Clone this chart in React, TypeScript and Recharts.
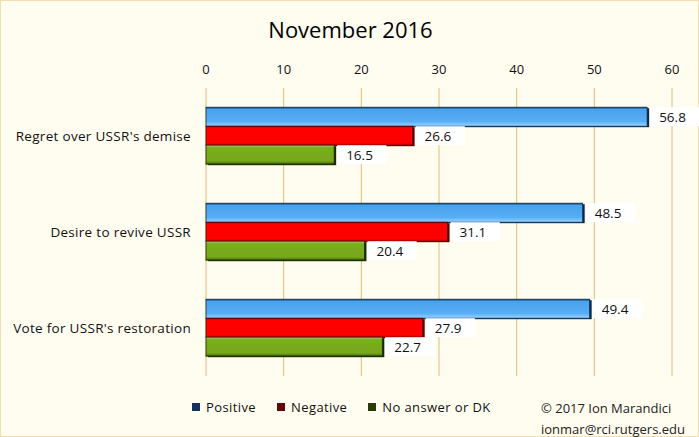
import React from "react";
import { BarChart, Bar, XAxis, YAxis, CartesianGrid, LabelList } from "recharts";

const categories = ["Regret over USSR's demise", "Desire to revive USSR", "Vote for USSR's restoration"];
const positive = [56.8, 48.5, 49.4];
const negative = [26.6, 31.1, 27.9];
const noAnswer = [16.5, 20.4, 22.7];
const xTicks = [0, 10, 20, 30, 40, 50, 60];
const legendItems = [
  { name: "Positive", color: "#14325e" },
  { name: "Negative", color: "#5e0a0a" },
  { name: "No answer or DK", color: "#2c3a08" },
];

const data = categories.map((c, i) => ({
  name: c,
  positive: positive[i],
  negative: negative[i],
  noAnswer: noAnswer[i],
}));

const FONT = "'Open Sans', 'DejaVu Sans', sans-serif";

const makeShape = (id: string, dark: string) => (props: any) => {
  const { x, y, width, height } = props;
  if (width == null || width <= 0) return null;
  return (
    <g>
      <rect x={x + 2} y={y + 1} width={width} height={height} fill={dark} />
      <rect x={x} y={y} width={width} height={height} fill={`url(#${id})`} stroke={dark} strokeWidth={0.8} />
    </g>
  );
};

const ValueLabel = (props: any) => {
  const { x, y, width, height, value } = props;
  const txt = Number(value).toFixed(1);
  const bx = x + width + 3;
  const tw = txt.length * 7.8;
  return (
    <g>
      <rect x={bx} y={y} width={tw + 18} height={height} fill="#ffffff" />
      <text x={bx + 9} y={y + height / 2 + 5} fontSize={13.5} fontFamily={FONT} fill="#111">
        {txt}
      </text>
    </g>
  );
};

export default function App() {
  return (
    <div
      style={{
        position: "absolute",
        left: 0,
        top: 0,
        width: 699,
        height: 437,
        background: "#FFFDF0",
        boxSizing: "border-box",
        border: "1px solid #f6dcae",
        fontFamily: FONT,
      }}
    >
      <div
        style={{
          position: "absolute",
          left: 0,
          top: 13,
          width: 699,
          textAlign: "center",
          fontSize: 22,
          color: "#000",
        }}
      >
        November 2016
      </div>
      <div style={{ position: "absolute", left: -1, top: -1 }}>
        <BarChart
          width={699}
          height={437}
          data={data}
          layout="vertical"
          margin={{ top: 58, right: 27, bottom: 61, left: 0 }}
          barCategoryGap="20%"
          barGap={0}
        >
          <defs>
            <linearGradient id="gBlue" x1="0" y1="0" x2="0" y2="1">
              <stop offset="0%" stopColor="#103c6e" />
              <stop offset="12%" stopColor="#4aa2ec" />
              <stop offset="75%" stopColor="#58aef5" />
              <stop offset="100%" stopColor="#9ed4ff" />
            </linearGradient>
            <linearGradient id="gRed" x1="0" y1="0" x2="0" y2="1">
              <stop offset="0%" stopColor="#b00000" />
              <stop offset="10%" stopColor="#ff0000" />
              <stop offset="88%" stopColor="#ff0000" />
              <stop offset="100%" stopColor="#c00000" />
            </linearGradient>
            <linearGradient id="gGreen" x1="0" y1="0" x2="0" y2="1">
              <stop offset="0%" stopColor="#d8eaa8" />
              <stop offset="10%" stopColor="#7cae1e" />
              <stop offset="85%" stopColor="#76a61a" />
              <stop offset="100%" stopColor="#3a5806" />
            </linearGradient>
          </defs>
          <CartesianGrid horizontal={false} vertical stroke="#e6b878" strokeWidth={1} />
          <XAxis
            type="number"
            orientation="top"
            domain={[0, 60]}
            ticks={xTicks}
            axisLine={false}
            tickLine={false}
            tickMargin={8}
            tick={{ fontSize: 13, fill: "#111", fontFamily: FONT }}
            height={30}
          />
          <YAxis
            type="category"
            dataKey="name"
            width={206}
            axisLine={false}
            tickLine={false}
            tickMargin={9}
            tick={{ fontSize: 13.5, fill: "#111", fontFamily: FONT, letterSpacing: 0.3 }}
          />
          <Bar dataKey="positive" isAnimationActive={false} shape={makeShape("gBlue", "#0a2a50")}>
            <LabelList dataKey="positive" content={ValueLabel} />
          </Bar>
          <Bar dataKey="negative" isAnimationActive={false} shape={makeShape("gRed", "#5a0000")}>
            <LabelList dataKey="negative" content={ValueLabel} />
          </Bar>
          <Bar dataKey="noAnswer" isAnimationActive={false} shape={makeShape("gGreen", "#1c2a02")}>
            <LabelList dataKey="noAnswer" content={ValueLabel} />
          </Bar>
        </BarChart>
      </div>
      <div
        style={{
          position: "absolute",
          left: 191,
          top: 397,
          display: "flex",
          fontSize: 13,
          color: "#111",
        }}
      >
        {legendItems.map((it) => (
          <div key={it.name} style={{ display: "flex", alignItems: "center", marginRight: 21 }}>
            <span
              style={{ display: "inline-block", width: 8, height: 8, background: it.color, marginRight: 6 }}
            />
            <span style={{ letterSpacing: 0.4 }}>{it.name}</span>
          </div>
        ))}
      </div>
      <div
        style={{
          position: "absolute",
          left: 540,
          top: 397,
          fontSize: 13,
          lineHeight: "21px",
          color: "#222",
        }}
      >
        <div>© 2017 Ion Marandici</div>
        <div>ionmar@rci.rutgers.edu</div>
      </div>
    </div>
  );
}
